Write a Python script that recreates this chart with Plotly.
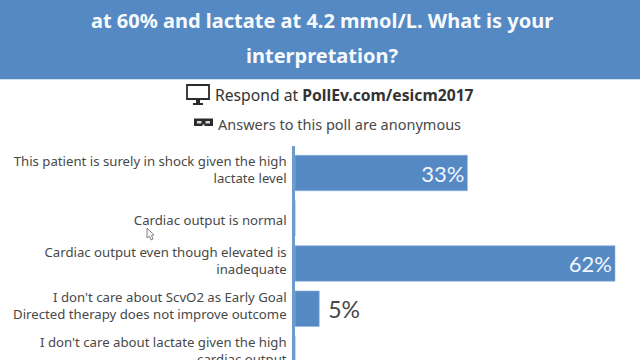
import plotly.graph_objects as go

categories = [
    "This patient is surely in shock given the high<br>lactate level",
    "Cardiac output is normal",
    "Cardiac output even though elevated is<br>inadequate",
    "I don't care about ScvO2 as Early Goal<br>Directed therapy does not improve outcome",
    "I don't care about lactate given the high<br>cardiac output",
]
values = [33.4, 0, 62, 4.7, 0]
labels = ["33%", "", "62%", "\u00a05%", ""]
label_positions = ["inside", "none", "inside", "outside", "none"]
label_nudge_px = [-3, 2, -3, -3, -3]

W, H = 640, 385
L, T = 295, 146
PITCH = 45.25
BLUE = "#5589c4"
INK = "#484848"
BODY = "Noto Sans"
DARK = "#2b2b2b"


def px(x):
    return (x - L) / (W - L)


def py(y):
    return (H - y) / (H - T)


def box(x0, x1, y0, y1, fill):
    return dict(type="rect", xref="paper", yref="paper", x0=px(x0), x1=px(x1),
                y0=py(y1), y1=py(y0), fillcolor=fill, line_width=0)


fig = go.Figure(go.Bar(
    y=list(range(len(categories))), x=values, orientation="h",
    marker=dict(color=BLUE, line=dict(color="#8fb4dc", width=0.6)),
    width=0.785,
    text=labels, textposition=label_positions, insidetextanchor="end",
    insidetextfont=dict(family="Lato", size=22, color="#f2f7fc"),
    outsidetextfont=dict(family="Lato", size=23, color=INK),
    cliponaxis=False, hoverinfo="skip",
))

shapes = [
    dict(box(0, 640, -2, 79, BLUE), layer="below"),
    dict(box(0, 640, 79, 80, "#cfe0f2"), layer="below"),
    # monitor icon
    dict(type="rect", xref="paper", yref="paper", x0=px(187), x1=px(209), y0=py(99), y1=py(85),
         fillcolor="white", line=dict(color=DARK, width=1.8)),
    box(196, 200, 99, 103, DARK),
    box(193, 203, 103, 105, DARK),
    # mask icon
    box(194, 213, 118.5, 126, DARK),
    box(197, 201.5, 121, 123.5, "#d8d8d8"),
    box(205.5, 210, 121, 123.5, "#d8d8d8"),
    box(202.5, 204.5, 124.5, 127, "white"),
    # mouse cursor
    dict(type="path", xref="paper", yref="paper",
         path=(f"M {px(147)} {py(228)} L {px(147)} {py(238)} L {px(149.5)} {py(236.5)} "
               f"L {px(151)} {py(240)} L {px(153)} {py(239)} L {px(151.5)} {py(235.5)} "
               f"L {px(154)} {py(235)} Z"),
         fillcolor="#f4f4f4", line=dict(color="#777777", width=0.9)),
]

annotations = [
    dict(text="at 60% and lactate at 4.2 mmol/L. What is your", x=px(322), y=py(20.5),
         font=dict(family=BODY, size=20, color="#f7fafd", weight="bold")),
    dict(text="interpretation?", x=px(322), y=py(55.5),
         font=dict(family=BODY, size=20, color="#f7fafd", weight="bold")),
    dict(text="Respond at <b>PollEv.com/esicm2017</b>", x=px(344), y=py(95),
         font=dict(family=BODY, size=15.7, color="#333333")),
    dict(text="Answers to this poll are anonymous", x=px(339), y=py(124),
         font=dict(family=BODY, size=14.5, color=INK)),
]
for a in annotations:
    a.update(xref="paper", yref="paper", showarrow=False, xanchor="center", yanchor="middle")

fig.update_layout(
    width=W, height=H, margin=dict(l=L, r=0, t=T, b=0, autoexpand=False),
    paper_bgcolor="white", plot_bgcolor="white", showlegend=False,
    shapes=shapes, annotations=annotations,
    xaxis=dict(range=[0, (W - L) / (320 / 62)], visible=False, fixedrange=True),
    yaxis=dict(
        range=[(H - 173) / PITCH, (146 - 173) / PITCH],
        tickmode="array",
        tickvals=[i + n / PITCH for i, n in enumerate(label_nudge_px)],
        ticktext=categories,
        tickfont=dict(family=BODY, size=13.2, color=INK),
        showgrid=False, zeroline=False, showline=True, linecolor="#6f9bcd", linewidth=2.5,
        ticks="outside", ticklen=3, tickcolor="rgba(0,0,0,0)", fixedrange=True,
    ),
)

fig.write_html(
    "out.html", config={"displayModeBar": False},
    post_script="document.body.style.margin='0';document.documentElement.style.overflow='hidden';document.body.style.overflow='hidden';",
)
